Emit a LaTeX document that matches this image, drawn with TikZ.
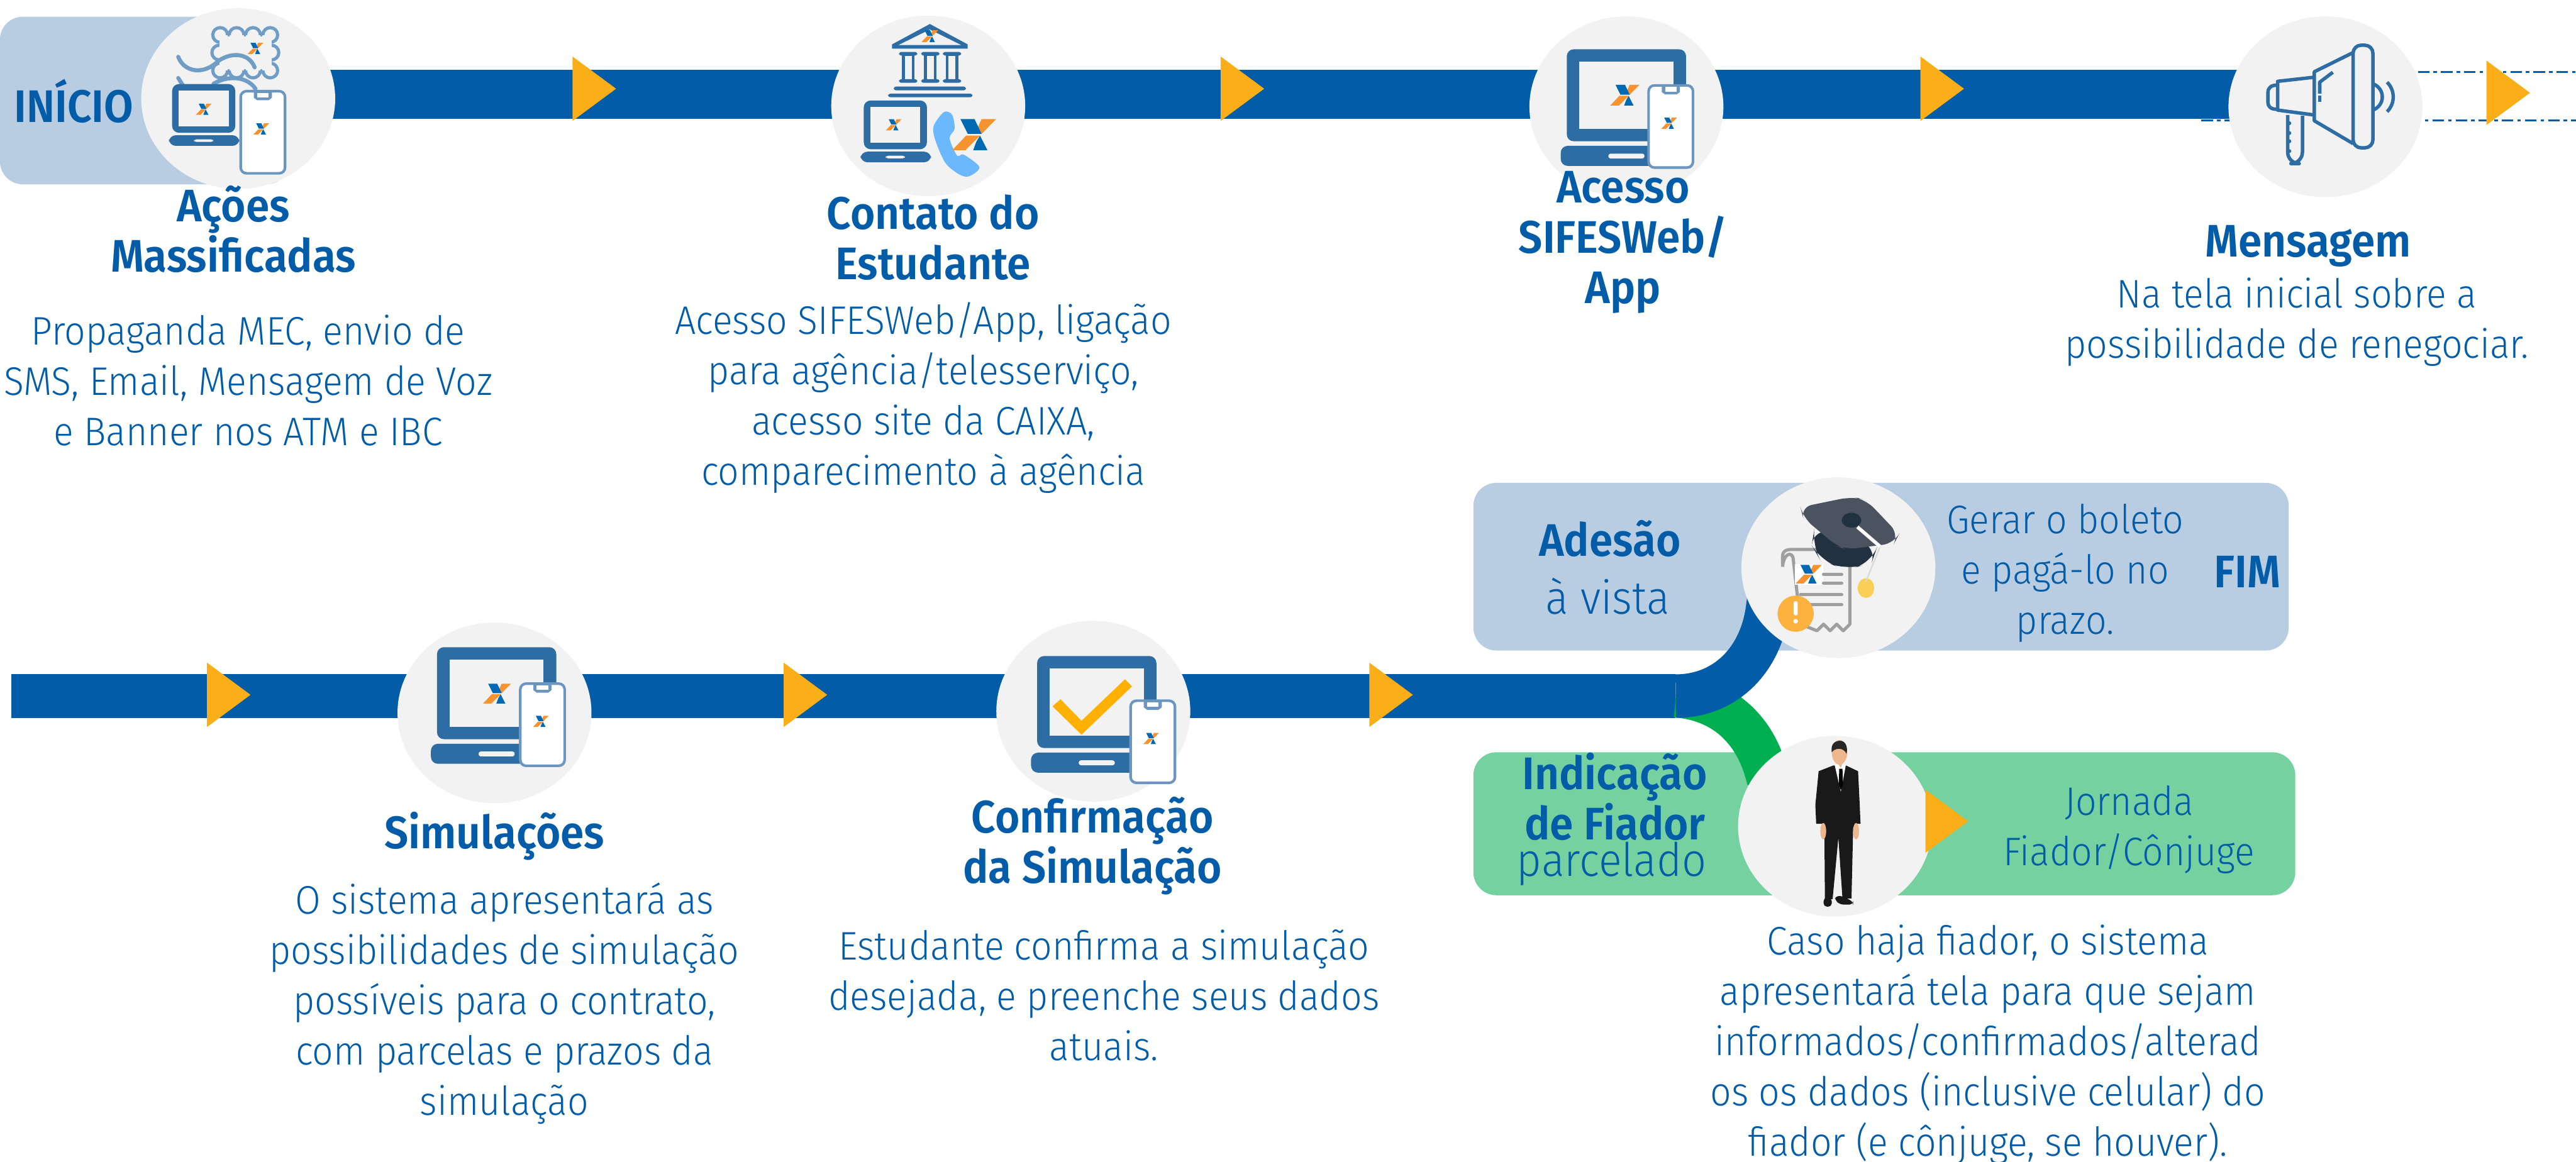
\documentclass[tikz,border=0pt]{standalone}
\usepackage{fontspec}
\setmainfont{Fira Sans}[UprightFont=* Light, BoldFont=* SemiBold, FakeStretch=0.93]
\usetikzlibrary{positioning, shapes.geometric, backgrounds}

\definecolor{azul}{HTML}{025CA8}
\definecolor{icone}{HTML}{2E6DA4}
\definecolor{borda}{HTML}{6A96C0}
\definecolor{selo}{HTML}{6F9DC6}
\definecolor{laranja}{HTML}{FBAE17}
\definecolor{visto}{HTML}{FFB000}
\definecolor{claro}{HTML}{B8CDE1}
\definecolor{verdeclaro}{HTML}{75D2A0}
\definecolor{verde}{HTML}{00B050}
\definecolor{cinza}{HTML}{F2F2F2}
\definecolor{azulx}{HTML}{0069B4}
\definecolor{laranjax}{HTML}{F7932F}
\definecolor{pele}{HTML}{EDB68C}
\definecolor{fone}{HTML}{6CB8FF}
\definecolor{capelo}{HTML}{4B5361}
\definecolor{capeloesc}{HTML}{22313F}
\definecolor{ouro}{HTML}{F9CF56}
\definecolor{alerta}{HTML}{FDB240}

\tikzset{
    circulo/.style={ellipse, fill=cinza, inner sep=0pt, minimum width=1.18cm, minimum height=1.10cm},
    faixa/.style={rectangle, rounded corners=0.14cm, inner sep=0pt},
    bar/.style={draw=azul, line width=0.265cm},
    traco/.style={draw=azul, line width=0.35pt, dash pattern=on 2pt off 0.7pt on 0.6pt off 0.7pt},
    titulo/.style={text=azul, align=center, inner sep=0pt, font=\bfseries\fontsize{7.9}{8.75}\selectfont},
    corpo/.style={text=azul, align=center, inner sep=0pt, font=\fontsize{6.9}{8.7}\selectfont},
    corpog/.style={corpo, font=\fontsize{8}{8.7}\selectfont},
    pics/logox/.style={code={
        \fill[laranjax] (4.5,-9.5) -- (13.3,-9.5) -- (4.5,-0.5) -- (2.2,-4.5) -- cycle;
        \fill[azulx] (-8.4,-9.5) -- (0.2,-9.5) -- (4.5,-0.5) -- (-3.9,-0.5) -- cycle;
        \fill[azulx] (3.5,0.5) -- (8,9.4) -- (-0.6,9.4) -- (1.2,4.5) -- cycle;
        \fill[laranjax] (-4.9,0.5) -- (3.5,0.5) -- (-5.3,9.4) -- (-13.3,9.4) -- cycle;
    }},
    pics/laptop/.style={code={
        \fill[icone, rounded corners=1.2pt] (-36.3,-28) rectangle (36.3,28);
        \fill[cinza] (-28.6,-20.5) rectangle (28.6,20.5);
        \fill[icone, rounded corners=1.2pt] (-40,30.8) rectangle (41,43);
        \fill[cinza, rounded corners=0.4pt] (-11,35.5) rectangle (11,38.5);
    }},
    pics/celular/.style={code={
        \draw[borda, fill=white, line width=0.45pt, rounded corners=1pt] (-13.5,-25) rectangle (13.5,25);
        \fill[borda] (-5.5,-24.5) -- (5.5,-24.5) -- (5.5,-21) -- (3.5,-19.5) -- (-3.5,-19.5) -- (-5.5,-21) -- cycle;
        \fill[white] (-3.5,-24) rectangle (3.5,-21.2);
        \pic[scale=0.36] at (-1,-2) {logox};
    }},
    pics/seta/.style={code={
        \fill[laranja] (0,-19.6) -- (26.5,0) -- (0,19.6) -- cycle;
    }},
}

\begin{document}
\begin{tikzpicture}[x=0.01cm, y=-0.01cm]
    \useasboundingbox (0,0) rectangle (1568,707.4);

    \node[circulo] (acoes) at (145,60) {};
    \node[circulo] (contato) at (565,64.5) {};
    \node[circulo] (acesso) at (990,65) {};
    \node[circulo] (mensagem) at (1415.5,65) {};
    \node[circulo] (simula) at (301,434) {};
    \node[circulo] (confirma) at (665.5,433) {};
    \node[circulo] (adesao) at (1119,345.6) {};
    \node[circulo] (fiador) at (1117,503) {};

    \coordinate (linha1) at (0,57.4);
    \coordinate (linha2) at (7,423.8);
    \coordinate (curva) at (1020,423.8);
    \coordinate (ponta1) at (1568,43.7);
    \coordinate (ponta2) at (1568,73.3);
    \coordinate (inicio2) at (1340,73.3);

    \begin{pgfonlayer}{background}
        \node[faixa, fill=claro, minimum width=1.76cm, minimum height=1.02cm] (inicio) at (88,61.2) {};
        \node[faixa, fill=claro, minimum width=4.96cm, minimum height=1.02cm] (caixaadesao) at (1145,345) {};
        \node[faixa, fill=verdeclaro, minimum width=5.00cm, minimum height=0.87cm] (caixafiador) at (1147,501.5) {};

        \draw[traco] (mensagem |- ponta1) -- (ponta1);
        \draw[traco] (inicio2) -- (ponta2);
        \draw[bar, line width=0.30cm] (acoes |- linha1) -- (mensagem |- linha1);
        \draw[bar] (linha2) -- (curva);
        \draw[bar, draw=verde, line width=0.26cm] (curva) .. controls (1050,426) and (1068,445) .. (1075,470) -- (fiador.center);
        \draw[bar] (curva) .. controls (1050,423.8) and (1072,402) .. (1076,370) -- (adesao.center);
    \end{pgfonlayer}

    \pic at (348.5,54) {seta};
    \pic at (743,54) {seta};
    \pic at (1169,54) {seta};
    \pic at (1513.5,56.5) {seta};
    \pic at (126,423) {seta};
    \pic at (477,423) {seta};
    \pic at (833.5,423) {seta};

    % selo e laptop do inicio
    \foreach \sx/\sy in {134/21.3,144/21.3,154/21.3,164.5/21.3,134/42.9,144/42.9,154/42.9,164.5/42.9,133.5/32,165.2/32}{
        \draw[selo, line width=0.55pt] (\sx,\sy) circle (4.5);
    }
    \fill[cinza] (133.5,21.3) rectangle (165.2,42.9);
    \foreach \sx in {138.5,148.5,158.5}{
        \draw[selo, line width=0.55pt] (\sx,21.3) -- (\sx+1.2,21.3);
        \draw[selo, line width=0.55pt] (\sx,42.9) -- (\sx+1.2,42.9);
    }
    \draw[selo, line width=0.7pt, line cap=round] (108.5,34.6) .. controls (112,44) and (124,46) .. (133,37) .. controls (142,31) and (152,33) .. (155,41);
    \draw[selo, line width=0.7pt, line cap=round] (108.5,47.5) -- (112,53);
    \draw[selo, line width=0.7pt, line cap=round] (130,51) .. controls (138,46) and (150,46) .. (155.5,54);
    \pic[scale=0.36] at (155.5,29.5) {logox};
    \pic[scale=0.53] at (124,66) {laptop};
    \pic[scale=0.36] at (124,66.5) {logox};
    \pic at (160,80.5) {celular};

    % banco e telefone
    \fill[icone] (566,14.6) -- (589,27) -- (589,29.6) -- (543,29.6) -- (543,27) -- cycle;
    \fill[cinza] (566,18) -- (585,27.4) -- (547,27.4) -- cycle;
    \pic[scale=0.38] at (566,22) {logox};
    \foreach \cx in {552.8,566.3,579.5}{
        \draw[icone, line width=0.5pt] (\cx-3,33) rectangle (\cx+3,49);
        \fill[icone, rounded corners=0.4pt] (\cx-5.6,31.6) rectangle (\cx+5.6,33.8);
        \fill[icone, rounded corners=0.4pt] (\cx-5.6,48.2) rectangle (\cx+5.6,50.4);
    }
    \fill[icone, rounded corners=0.4pt] (544,52.7) rectangle (588,55);
    \fill[icone, rounded corners=0.4pt] (540.6,57) rectangle (592,59.2);
    \pic[scale=0.53] at (545,76) {laptop};
    \pic[scale=0.36] at (544,76) {logox};
    \fill[fone] plot[smooth cycle, tension=0.5] coordinates {(574.6,68.2) (568.3,76.7) (569.3,85.3) (575.4,99.1) (583.6,106) (589.7,107.4) (596.2,101.8) (586.6,94.1) (582.6,94.8) (578,84.2) (581.1,78.3) (579.5,69.8)};
    \pic at (593,82) {logox};

    % acesso
    \pic at (990,58) {laptop};
    \pic[scale=0.67] at (989,58) {logox};
    \pic at (1017,77) {celular};

    % megafone
    \begin{scope}[icone, line width=0.6pt, line join=round]
        \draw[rounded corners=1.4pt] (1432.3,27.5) rectangle (1444.4,90);
        \draw (1432.3,32) -- (1408.7,43.7) -- (1408.7,73.5) -- (1432.3,87.4);
        \draw (1408.7,47) -- (1386.4,49.5) -- (1386.4,67) -- (1408.7,70);
        \draw[rounded corners=1pt] (1386.4,51.7) -- (1380.5,52.5) -- (1380.5,66) -- (1386.4,66.6);
        \draw[rounded corners=2pt] (1392.5,70) -- (1392.5,99.6) -- (1401.5,99.6) -- (1401.5,70.5);
        \draw (1444.4,51) .. controls (1452,54) and (1452,64) .. (1444.4,67);
        \draw (1453,50) .. controls (1458,55) and (1458,63) .. (1453,68);
        \draw (1412,57) -- (1412,50) -- (1420,44);
        \draw (1412,58) -- (1412,62);
        \foreach \ry in {75,81,86,92}{
            \fill (1393.5,\ry) circle (1.2);
        }
    \end{scope}

    \pic at (302.3,422) {laptop};
    \pic[scale=0.64] at (302.5,422.3) {logox};
    \pic at (330.2,441.2) {celular};

    \pic at (667.6,427.4) {laptop};
    \fill[visto] (640.7,430) -- (645.5,425.7) -- (658.3,438.8) -- (684.8,413.5) -- (689,417.9) -- (658.3,447.3) -- cycle;
    \pic at (701.7,451.6) {celular};

    % boleto e capelo
    \draw[gray!75, line width=0.55pt, line join=round, fill=cinza] (1085,345) -- (1085,339) .. controls (1085,335) and (1088,334.5) .. (1091,334.5) -- (1118,334.5) -- (1126,345) -- (1126,380) -- (1122,384) -- (1118,380) -- (1114,384) -- (1110,380) -- (1106,384) -- (1096,380) -- (1091.5,340) .. controls (1091,336) and (1086,336) .. (1085,345);
    \fill[white] (1092.4,343.3) rectangle (1109.8,356);
    \pic[scale=0.6] at (1101,349.6) {logox};
    \foreach \ly/\lx in {349.6/1110,355/1110,362/1096,368/1096}{
        \draw[gray!75, line width=0.6pt, line cap=round] (\lx,\ly) -- (1121,\ly);
    }
    \fill[alerta] (1093,373.6) ellipse (11 and 11);
    \fill[white, rounded corners=0.2pt] (1091.8,366) rectangle (1094.2,374.6);
    \fill[white] (1093,378.2) circle (1.4);
    \fill[ouro] (1135.8,358) ellipse (5 and 6);
    \draw[gray!30, line width=0.25pt] (1144.4,332.7) -- (1135.8,354);
    \fill[capeloesc, rounded corners=3pt] (1104.6,320.8) -- (1102.8,332) -- (1108,341) -- (1123.6,347) -- (1139.2,342.8) -- (1142.7,332.7) -- cycle;
    \fill[capelo, rounded corners=2pt] (1095.9,308.8) -- (1127,302.4) -- (1135.8,304.2) -- (1155.9,325.3) -- (1153,330.8) -- (1123.6,334.5) -- (1118.4,332.7) -- (1097.6,315.2) -- cycle;
    \fill[capeloesc] (1127,316.7) ellipse (6 and 4.5);
    \draw[white, line width=0.6pt] (1130.6,320.8) -- (1144.4,332.7);

    % fiador
    \fill[black!90] (1116,466) -- (1107,469.5) -- (1105,490) -- (1105.5,501.5) -- (1109,501.5) -- (1110.5,504) -- (1110.8,547.4) -- (1115.5,547.4) -- (1119,510) -- (1121.5,547) -- (1127,547) -- (1128,504) -- (1129.5,501.5) -- (1132.5,501.5) -- (1132,490) -- (1131,469.5) -- (1123.6,466) -- cycle;
    \fill[black!90, rounded corners=0.6pt] (1110,546.5) rectangle (1115,552);
    \fill[black!90, rounded corners=0.6pt] (1117,545.5) -- (1121.5,545.5) -- (1128,549) -- (1128,550.7) -- (1120,550.7) -- (1117,548) -- cycle;
    \fill[white] (1116.7,465.5) -- (1123.6,465.5) -- (1120.5,482) -- cycle;
    \fill[black] (1119.5,468) -- (1121.5,468) -- (1121.8,478) -- (1120.5,481) -- (1119.3,478) -- cycle;
    \fill[pele] (1119.7,458) ellipse (4.7 and 7.5);
    \fill[pele] (1117.5,463) -- (1122,463) -- (1120.5,467.5) -- cycle;
    \fill[black!85] (1115,458) .. controls (1114,452) and (1118,451) .. (1120,451) .. controls (1123,451) and (1125,454) .. (1124,459) .. controls (1122.5,455) and (1117,455) .. (1115,458);
    \fill[pele] (1109.8,506) ellipse (1.8 and 5);
    \fill[pele] (1129.8,506) ellipse (1.8 and 5);
    \pic[scale=0.98] at (1172,500) {seta};

    \node[titulo] (txtinicio) at (45,61.5) {INÍCIO};

    \node[titulo] (tacoes) at (142,139.5) {Ações\\Massificadas};
    \node[corpo] (cacoes) at (151,231.5) {Propaganda MEC, envio de\\SMS, Email, Mensagem de Voz\\e Banner nos ATM e IBC};
    \node[titulo] (tcontato) at (568,144.5) {Contato do\\Estudante};
    \node[corpo] (ccontato) at (562,242) {Acesso SIFESWeb/App, ligação\\para agência/telesserviço,\\acesso site da CAIXA,\\comparecimento à agência};
    \node[titulo] (tacesso) at (988,147.5) {Acesso\\SIFESWeb/\\App};
    \node[titulo] (tmensagem) at (1405,150) {Mensagem};
    \node[corpo] (cmensagem) at (1398,196) {Na tela inicial sobre a\\possibilidade de renegociar.};
    \node[titulo] (tsimula) at (301,509) {Simulações};
    \node[corpo] (csimula) at (307,611) {O sistema apresentará as\\possibilidades de simulação\\possíveis para o contrato,\\com parcelas e prazos da\\simulação};
    \node[titulo] (tconfirma) at (665,515) {Confirmação\\da Simulação};
    \node[corpo] (cconfirma) at (672,606) {Estudante confirma a simulação\\desejada, e preenche seus dados\\atuais.};
    \node[titulo] (tadesao) at (980,328) {Adesão};
    \node[corpog] (cadesao) at (978.5,363) {à vista};
    \node[corpo] (cboleto) at (1257,349) {Gerar o boleto\\e pagá-lo no\\prazo.};
    \node[titulo] (tfim) at (1368,348) {FIM};
    \node[titulo] (tindica) at (983,485) {Indicação\\de Fiador};
    \node[corpog] (cparcela) at (981,526) {parcelado};
    \node[corpo] (cjornada) at (1296,505) {Jornada\\Fiador/Cônjuge};
    \node[corpo] (ccaso) at (1210,636) {Caso haja fiador, o sistema\\apresentará tela para que sejam\\informados/confirmados/alterad\\os os dados (inclusive celular) do\\fiador (e cônjuge, se houver).};
\end{tikzpicture}
\end{document}
